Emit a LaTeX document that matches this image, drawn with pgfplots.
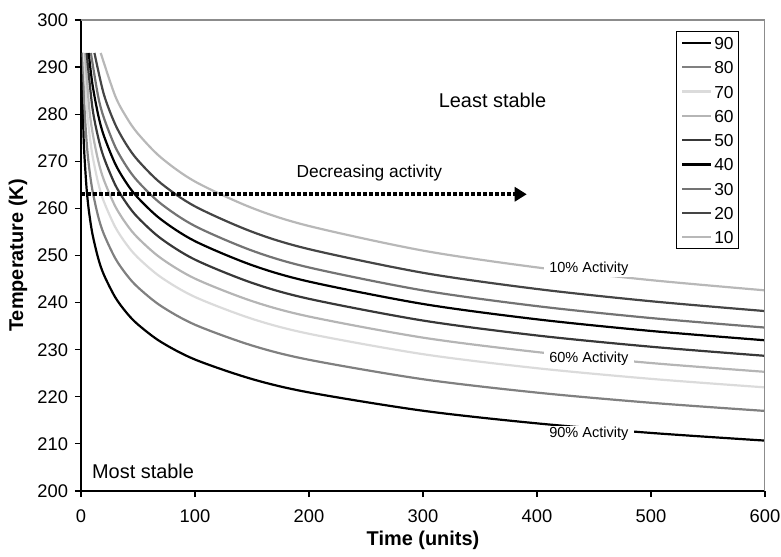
\documentclass[border=0pt]{standalone}
\usepackage{fontspec}
\setmainfont{Liberation Sans}
\usepackage{pgfplots}
\pgfplotsset{compat=1.18}
\usetikzlibrary{arrows.meta}

\definecolor{c90}{gray}{0.0}
\definecolor{c80}{gray}{0.50}
\definecolor{c70}{gray}{0.86}
\definecolor{c60}{gray}{0.71}
\definecolor{c50}{gray}{0.22}
\definecolor{c40}{gray}{0.0}
\definecolor{c30}{gray}{0.45}
\definecolor{c20}{gray}{0.27}
\definecolor{c10}{gray}{0.72}

\begin{document}
\begin{tikzpicture}
\useasboundingbox (-40.5bp,-33bp) rectangle (350bp,245.5bp);
\begin{axis}[
    scale only axis,
    width=342bp, height=235.5bp,
    xmin=0, xmax=600, ymin=200, ymax=300,
    xtick={0,100,...,600}, ytick={200,210,...,300},
    axis x line*=bottom, axis y line*=left,
    axis line style={black, line width=0.9bp},
    tick align=outside, major tick length=3bp,
    tick style={black, line width=0.6bp},
    /pgf/number format/assume math mode=true,
    ticklabel style={font=\fontsize{9.2}{11}\selectfont},
    xticklabel style={yshift=-3bp},
    xlabel={\bfseries Time (units)},
    ylabel={\bfseries Temperature (K)},
    label style={font=\fontsize{10}{12}\selectfont},
    xlabel style={at={(axis description cs:0.5,0)}, anchor=center, yshift=-24.5bp},
    ylabel style={at={(axis description cs:-0.0921,0.5)}, anchor=center},
    no markers,
    legend style={at={(rel axis cs:0.962,0.9766)}, anchor=north east,
        draw=black, line width=0.6bp, inner sep=2.4bp,
        font=\fontsize{8.7}{9}\selectfont,
        nodes={inner sep=0pt, text height=6.5bp, text depth=0pt},
        row sep=5.65bp, column sep=1bp},
    legend cell align=left,
    legend image code/.code={\draw[#1] (0bp,0bp) -- (14.5bp,0bp);},
]
\addplot[c90, line width=1.1bp, smooth] coordinates {
 (0.765,293) (2,277.37) (3,271.27) (5,263.95) (7,259.34)
 (10,254.63) (15,249.48) (20,245.95) (30,241.14) (40,237.84) (50,235.34)
 (70,231.67) (100,227.91) (150,223.77) (200,220.93) (300,217.04)
 (400,214.36) (500,212.33) (600,210.70)};
\addplot[c80, line width=1.1bp, smooth] coordinates {
 (1.52,293) (3,281.80) (5,273.91) (7,268.96)
 (10,263.89) (15,258.36) (20,254.58) (30,249.43) (40,245.90) (50,243.23)
 (70,239.31) (100,235.30) (150,230.89) (200,227.86) (300,223.73)
 (400,220.89) (500,218.73) (600,217.00)};
\addplot[c70, line width=1.1bp, smooth] coordinates {
 (2.56,293) (5,281.93) (7,276.68)
 (10,271.33) (15,265.48) (20,261.49) (30,256.06) (40,252.34) (50,249.53)
 (70,245.41) (100,241.19) (150,236.56) (200,233.38) (300,229.05)
 (400,226.07) (500,223.81) (600,222.00)};
\addplot[c60, line width=1.1bp, smooth] coordinates {
 (3.56,293) (7,281.82)
 (10,276.27) (15,270.22) (20,266.08) (30,260.46) (40,256.61) (50,253.71)
 (70,249.45) (100,245.09) (150,240.32) (200,237.04) (300,232.56)
 (400,229.50) (500,227.17) (600,225.30)};
\addplot[c50, line width=1.1bp, smooth] coordinates {
 (4.95,293)
 (10,281.40) (15,275.13) (20,270.83) (30,265.02) (40,261.04) (50,258.03)
 (70,253.63) (100,249.12) (150,244.19) (200,240.80) (300,236.19)
 (400,233.02) (500,230.63) (600,228.70)};
\addplot[c40, line width=1.1bp, smooth] coordinates {
 (6.76,293)
 (10,286.42) (15,279.92) (20,275.47) (30,269.46) (40,265.34) (50,262.24)
 (70,257.69) (100,253.04) (150,247.95) (200,244.46) (300,239.71)
 (400,236.45) (500,233.98) (600,232.00)};
\addplot[c30, line width=1.1bp, smooth] coordinates {
 (8.65,293)
 (15,283.85) (20,279.28) (30,273.10) (40,268.88) (50,265.69)
 (70,261.02) (100,256.25) (150,251.04) (200,247.46) (300,242.59)
 (400,239.25) (500,236.72) (600,234.70)};
\addplot[c20, line width=1.1bp, smooth] coordinates {
 (11.8,293)
 (20,284.26) (30,277.85) (40,273.48) (50,270.18)
 (70,265.36) (100,260.43) (150,255.04) (200,251.35) (300,246.33)
 (400,242.89) (500,240.29) (600,238.20)};
\addplot[c10, line width=1.1bp, smooth] coordinates {
 (17.3,293)
 (30,283.87) (40,279.30) (50,275.86)
 (70,270.83) (100,265.70) (150,260.10) (200,256.26) (300,251.04)
 (400,247.47) (500,244.77) (600,242.60)};
\legend{90,80,70,60,50,40,30,20,10}

\draw[black!45, line width=0.8bp] (rel axis cs:0,1) -- (rel axis cs:1,1) -- (rel axis cs:1,0);

\draw[line width=2bp, dash pattern=on 2bp off 1bp, -{Triangle[length=6bp,width=7bp]}]
  (axis cs:0,263) -- (axis cs:391,263);
\node[font=\fontsize{8.7}{10}\selectfont] at (axis cs:253,267.5) {Decreasing activity};
\node[font=\fontsize{10}{12}\selectfont] at (axis cs:361,283) {Least stable};
\node[anchor=west, inner sep=0pt, font=\fontsize{10}{12}\selectfont] at (axis cs:9.4,204.1) {Most stable};

\node[fill=white, inner xsep=2.7bp, inner ysep=0.5bp, font=\fontsize{7.3}{8}\selectfont] at (axis cs:445.5,247.1) {10\% Activity};
\node[fill=white, inner xsep=2.7bp, inner ysep=0.5bp, font=\fontsize{7.3}{8}\selectfont] at (axis cs:445.5,228.0) {60\% Activity};
\node[fill=white, inner xsep=2.7bp, inner ysep=0.5bp, font=\fontsize{7.3}{8}\selectfont] at (axis cs:445.5,212.25) {90\% Activity};
\end{axis}
\end{tikzpicture}
\end{document}
